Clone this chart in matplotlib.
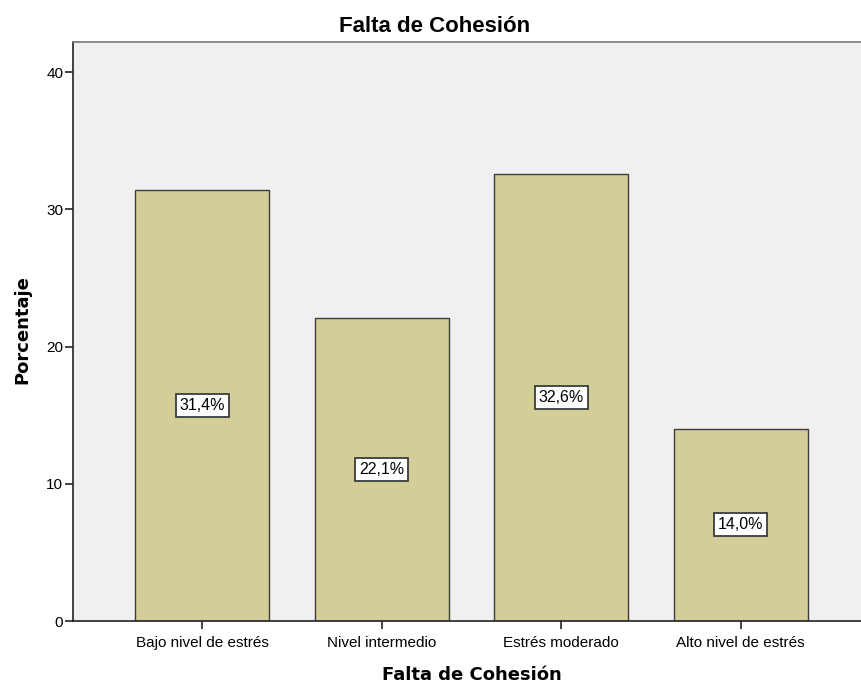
import numpy as np
import matplotlib.pyplot as plt

plt.rcParams['font.family'] = ['Liberation Sans', 'DejaVu Sans']

# Datos
categorias = ["Bajo nivel de estrés", "Nivel intermedio", "Estrés moderado", "Alto nivel de estrés"]
porcentajes = [31.4, 22.1, 32.6, 14.0]
etiquetas = ["31,4%", "22,1%", "32,6%", "14,0%"]

fig = plt.figure(figsize=(8.61, 6.84), dpi=100)
ax = fig.add_axes([0.0848, 0.0921, 0.9152, 0.8465])
ax.set_facecolor("#F0F0F0")

x = np.arange(len(categorias))
ax.bar(x, porcentajes, width=0.746, color="#D3CE98", edgecolor="#3C3C3C", linewidth=1.0, zorder=2)

for xi, v, lab in zip(x, porcentajes, etiquetas):
    ax.text(xi, v / 2, lab, ha="center", va="center", fontsize=11.5, zorder=3,
            bbox=dict(boxstyle="square,pad=0.25", facecolor="white", edgecolor="#3C3C3C", linewidth=1.3))

ax.set_xlim(-0.72, 3.67)
ax.set_ylim(0, 42.2)
ax.set_yticks([0, 10, 20, 30, 40])
ax.set_xticks(x)
ax.set_xticklabels(categorias, fontsize=11)
ax.tick_params(axis="y", labelsize=11, length=6, width=1.2, color="#222222", pad=1)
ax.tick_params(axis="x", length=6, width=1.2, color="#222222", pad=5)

for s in ["left", "bottom"]:
    ax.spines[s].set_linewidth(1.2)
    ax.spines[s].set_color("#222222")
ax.spines["top"].set_color("#777777")
ax.spines["top"].set_linewidth(1.2)
ax.spines["right"].set_visible(False)

# Títulos
fig.text(435 / 861, 1 - 27 / 684, "Falta de Cohesión", ha="center", va="center",
         fontsize=16, fontweight="bold")
fig.text(472 / 861, 1 - 675 / 684, "Falta de Cohesión", ha="center", va="center",
         fontsize=13, fontweight="bold", family="DejaVu Sans")
fig.text(22 / 861, 1 - 330 / 684, "Porcentaje", ha="center", va="center", rotation=90,
         fontsize=13, fontweight="bold", family="DejaVu Sans")

fig.savefig("out.png", dpi=100)
